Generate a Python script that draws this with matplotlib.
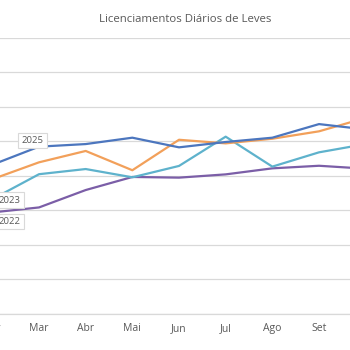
import matplotlib
matplotlib.use("Agg")
from matplotlib import pyplot as plt
import numpy as np

# Monthly index, Jan = 0
months = ['Jan', 'Fev', 'Mar', 'Abr', 'Mai', 'Jun', 'Jul', 'Ago', 'Set', 'Out', 'Nov', 'Dez']
shown = ['Fev', 'Mar', 'Abr', 'Mai', 'Jun', 'Jul', 'Ago', 'Set', 'Out']
tick_months = ['Fev', 'Mar', 'Abr', 'Mai', 'Jun', 'Jul', 'Ago', 'Set']

# daily light-vehicle registrations, Fev..Out
leves_2022 = [5870, 6160, 7170, 7930, 7890, 8080, 8430, 8580, 8410]
leves_2023 = [6640, 8090, 8390, 7910, 8570, 10270, 8530, 9360, 9840]
leves_2024 = [7800, 8780, 9440, 8320, 10090, 9880, 10150, 10580, 11360]
leves_2025 = [8640, 9690, 9840, 10210, 9650, 9960, 10210, 11000, 10690]

series = [
    ('2022', leves_2022, '#7B5EA7'),
    ('2023', leves_2023, '#5EB2CC'),
    ('2024', leves_2024, '#F2A05A'),
    ('2025', leves_2025, '#4C76BE'),
]

# which point each series name label hangs on, and offset in points
label_spots = {
    '2025': ('Mar', (-4.7, 4.1)),
    '2023': ('Fev', (12.5, -0.6)),
    '2022': ('Fev', (12.5, -6.3)),
}

grey_text = '#595959'
grid_col = '#D9D9D9'

fig = plt.figure(figsize=(3.5, 3.5), dpi=100)
# the chart is a crop: the plot area runs past both edges of the image
ax = fig.add_axes([-20 / 350, 36.5 / 350, 390 / 350, 275.5 / 350])

x = np.array([months.index(m) for m in shown])
for name, vals, col in series:
    ax.plot(x, vals, color=col, lw=1.6, solid_joinstyle='round', zorder=3)
    if name in label_spots:
        m, off = label_spots[name]
        i = shown.index(m)
        ax.annotate(name, xy=(x[i], vals[i]), xytext=off, textcoords='offset points',
                    ha='center', va='center', fontsize=6.8, color=grey_text,
                    family=['Open Sans', 'DejaVu Sans'], zorder=5, annotation_clip=False,
                    bbox=dict(boxstyle='square,pad=0.32', fc='white', ec=grid_col, lw=0.8))

ax.set_xticks([months.index(m) for m in tick_months], tick_months)
ax.set_xlim(0.735, 9.093)
ax.set_ylim(0, 16000)
ax.set_yticks(np.arange(0, 16001, 2000))
ax.grid(axis='y', color=grid_col, lw=0.9, zorder=0)
ax.tick_params(axis='y', left=False, labelleft=False)
ax.tick_params(axis='x', length=0, pad=7, labelsize=7.5, labelcolor=grey_text)
for lbl in ax.get_xticklabels():
    lbl.set_family(['Open Sans', 'DejaVu Sans'])
for side in ['top', 'left', 'right']:
    ax.spines[side].set_visible(False)
ax.spines['bottom'].set_color(grid_col)
ax.spines['bottom'].set_linewidth(0.9)

fig.text(0.53, 1 - 19 / 350, 'Licenciamentos Diários de Leves', ha='center', va='center',
         fontsize=8.2, color=grey_text, family=['Open Sans', 'DejaVu Sans'])

fig.savefig('out.png', dpi=100, facecolor='white')
